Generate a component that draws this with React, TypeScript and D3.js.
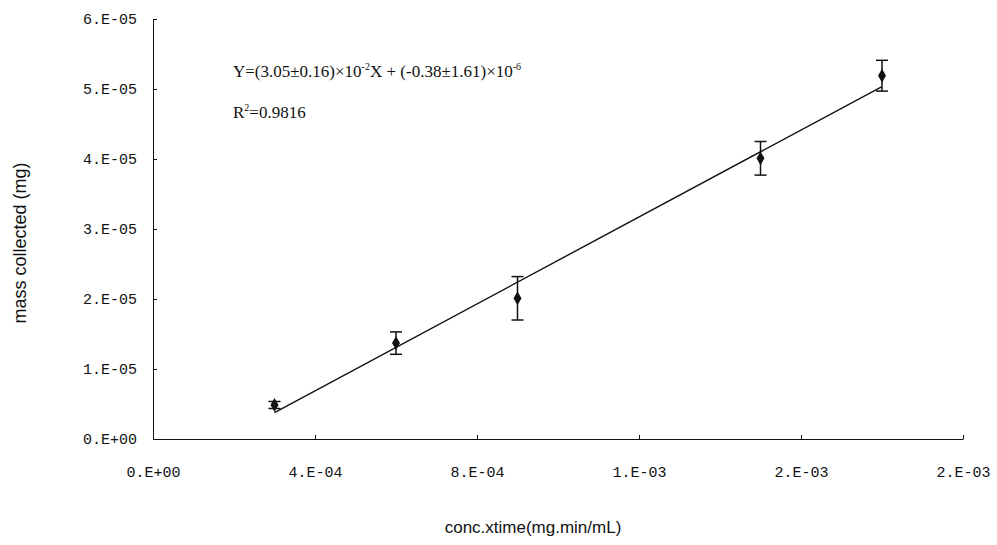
import { useEffect, useRef } from "react";
import * as d3 from "d3";

// conc x time (mg.min/mL)
const concTime = [3e-4, 6e-4, 9e-4, 1.5e-3, 1.8e-3];
// mass collected (mg)
const massCollected = [4.86e-6, 1.37e-5, 2.01e-5, 4.01e-5, 5.19e-5];
// error bar half-widths (mg)
const massError = [0.5e-6, 1.6e-6, 3.1e-6, 2.4e-6, 2.2e-6];

const xTickValues = [0, 4e-4, 8e-4, 1.2e-3, 1.6e-3, 2e-3];
const yTickValues = [0, 1e-5, 2e-5, 3e-5, 4e-5, 5e-5, 6e-5];

// Excel style "0.E+00"
const fmt = (v: number) => {
  if (v === 0) return "0.E+00";
  const [m, e] = v.toExponential(0).split("e");
  const n = parseInt(e, 10);
  return `${m}.E${n < 0 ? "-" : "+"}${String(Math.abs(n)).padStart(2, "0")}`;
};

export default function App() {
  const ref = useRef<SVGSVGElement | null>(null);

  useEffect(() => {
    document.body.style.margin = "0";
    if (!ref.current) return;

    const width = 997;
    const height = 545;
    const margin = { top: 19, right: 34, bottom: 106, left: 153 };

    const svg = d3.select(ref.current).attr("viewBox", `0 0 ${width} ${height}`);
    svg.selectAll("*").remove();

    const x = d3.scaleLinear().domain([0, 2e-3]).range([margin.left, width - margin.right]);
    const y = d3.scaleLinear().domain([0, 6e-5]).range([height - margin.bottom, margin.top]);

    /* ---------------- AXES ---------------- */

    const xAxis = svg.append("g")
      .attr("transform", `translate(0,${height - margin.bottom})`)
      .call(
        d3.axisBottom(x)
          .tickValues(xTickValues)
          .tickFormat(d => fmt(d as number))
          .tickSizeInner(-4)
          .tickSizeOuter(0)
          .tickPadding(27)
      );

    const yAxis = svg.append("g")
      .attr("transform", `translate(${margin.left},0)`)
      .call(
        d3.axisLeft(y)
          .tickValues(yTickValues)
          .tickFormat(d => fmt(d as number))
          .tickSizeInner(-4)
          .tickSizeOuter(0)
          .tickPadding(16)
      );

    [xAxis, yAxis].forEach(g => {
      g.selectAll("path, line").attr("stroke", "#111").attr("stroke-width", 1);
      g.selectAll("text")
        .attr("fill", "#111")
        .attr("font-family", "'Liberation Mono', monospace")
        .attr("font-size", 15);
    });

    /* ---------------- FIT LINE ---------------- */

    const mx = d3.mean(concTime)!;
    const my = d3.mean(massCollected)!;
    const slope =
      d3.sum(concTime, (v, i) => (v - mx) * (massCollected[i] - my)) /
      d3.sum(concTime, v => (v - mx) ** 2);
    const intercept = my - slope * mx;
    const xExt = d3.extent(concTime) as [number, number];

    svg.append("path")
      .datum(xExt)
      .attr("fill", "none")
      .attr("stroke", "#111")
      .attr("stroke-width", 1.4)
      .attr("d", d3.line<number>().x(d => x(d)).y(d => y(slope * d + intercept)));

    /* ---------------- ERROR BARS ---------------- */

    const bars = svg.append("g").attr("stroke", "#111").attr("stroke-width", 1.5);
    concTime.forEach((cx, i) => {
      const top = y(massCollected[i] + massError[i]);
      const bot = y(massCollected[i] - massError[i]);
      bars.append("line").attr("x1", x(cx)).attr("x2", x(cx)).attr("y1", top).attr("y2", bot);
      [top, bot].forEach(yy =>
        bars.append("line")
          .attr("x1", x(cx) - 6).attr("x2", x(cx) + 6)
          .attr("y1", yy).attr("y2", yy)
      );
    });

    /* ---------------- POINTS ---------------- */

    svg.selectAll(".pt")
      .data(concTime)
      .enter()
      .append("path")
      .attr("transform", (d, i) => `translate(${x(d)},${y(massCollected[i])})`)
      .attr("d", d3.symbol(d3.symbolDiamond, 55)())
      .attr("fill", "#111");

    /* ---------------- TITLES ---------------- */

    svg.append("text")
      .attr("x", (margin.left + width - margin.right) / 2 - 25)
      .attr("y", 533)
      .attr("text-anchor", "middle")
      .attr("font-family", "'Liberation Sans', Arial, sans-serif")
      .attr("font-size", 17)
      .attr("fill", "#111")
      .text("conc.xtime(mg.min/mL)");

    svg.append("text")
      .attr("transform", `translate(26,${(margin.top + height - margin.bottom) / 2 + 14}) rotate(-90)`)
      .attr("text-anchor", "middle")
      .attr("font-family", "'Liberation Sans', Arial, sans-serif")
      .attr("font-size", 18)
      .attr("fill", "#111")
      .text("mass collected (mg)");

    /* ---------------- EQUATION ---------------- */

    const eq = svg.append("text")
      .attr("x", 233)
      .attr("y", 77)
      .attr("font-family", "'Liberation Serif', 'Times New Roman', serif")
      .attr("font-size", 17)
      .attr("fill", "#111");
    eq.append("tspan").text("Y=(3.05±0.16)×10");
    eq.append("tspan").attr("font-size", 10).attr("dy", -7).text("-2");
    eq.append("tspan").attr("dy", 7).text("X + (-0.38±1.61)×10");
    eq.append("tspan").attr("font-size", 10).attr("dy", -7).text("-6");

    const r2 = svg.append("text")
      .attr("x", 233)
      .attr("y", 118)
      .attr("font-family", "'Liberation Serif', 'Times New Roman', serif")
      .attr("font-size", 17)
      .attr("fill", "#111");
    r2.append("tspan").text("R");
    r2.append("tspan").attr("font-size", 10).attr("dy", -7).text("2");
    r2.append("tspan").attr("dy", 7).text("=0.9816");
  }, []);

  return <svg ref={ref} style={{ display: "block", width: "997px", height: "545px" }} />;
}
